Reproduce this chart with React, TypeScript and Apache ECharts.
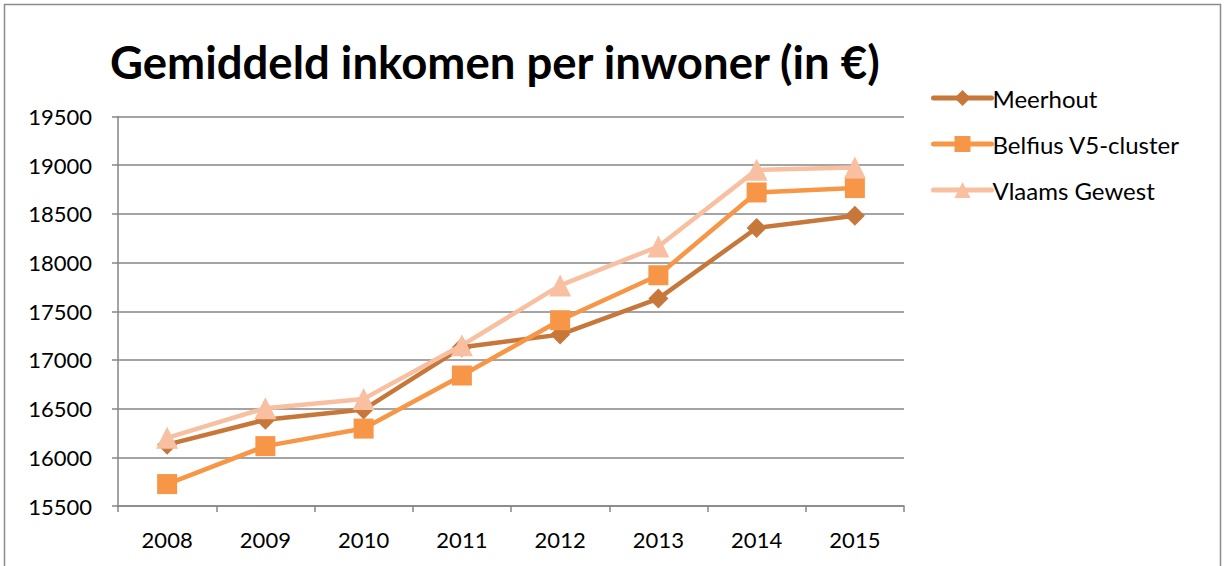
import React, { useEffect, useRef } from "react";
import * as echarts from "echarts";

const years = ["2008", "2009", "2010", "2011", "2012", "2013", "2014", "2015"];
const meerhout = [16130, 16385, 16490, 17130, 17260, 17630, 18355, 18480];
const belfius = [15725, 16115, 16295, 16840, 17408, 17870, 18720, 18765];
const vlaams = [16200, 16505, 16600, 17150, 17765, 18165, 18952, 18975];
const seriesNames = ["Meerhout", "Belfius V5-cluster", "Vlaams Gewest"];
const colors = ["#C8773A", "#F79646", "#F8BFA0"];
const symbols = ["diamond", "rect", "triangle"];
const symbolSizes = [20, 20, 22];

export default function App() {
  const ref = useRef<HTMLDivElement>(null);
  useEffect(() => {
    document.body.style.margin = "0";
    const chart = echarts.init(ref.current!, null, { renderer: "svg" });
    const data = [meerhout, belfius, vlaams];
    chart.setOption({
      animation: false,
      backgroundColor: "#ffffff",
      textStyle: { fontFamily: "Lato, 'Open Sans', sans-serif" },
      title: {
        text: "Gemiddeld inkomen per inwoner (in €)",
        left: 105,
        top: 33,
        textStyle: { fontSize: 45.5, fontWeight: "bold", color: "#000", fontFamily: "Lato, 'Open Sans', sans-serif" },
      },
      graphic: [
        {
          type: "rect",
          shape: { x: 4.5, y: 4.5, width: 1216, height: 600 },
          style: { fill: "none", stroke: "#8c8c8c", lineWidth: 1.5 },
          silent: true,
          z: 0,
        },
      ],
      legend: {
        orient: "vertical",
        left: 926,
        top: 81,
        itemGap: 22,
        itemWidth: 58,
        itemHeight: 20,
        data: seriesNames,
        lineStyle: { width: 5, cap: "round" },
        textStyle: { fontSize: 24, lineHeight: 24, color: "#000", padding: [0, 0, 0, -4] },
      },
      grid: { left: 118, right: 321, top: 116.5, bottom: 60, containLabel: false },
      xAxis: {
        type: "category",
        data: years,
        boundaryGap: true,
        axisLine: { lineStyle: { color: "#868686", width: 1.5 } },
        axisTick: { show: true, length: 6, lineStyle: { color: "#868686", width: 1.5 } },
        axisLabel: { fontSize: 22, color: "#000", margin: 22 },
      },
      yAxis: {
        type: "value",
        min: 15500,
        max: 19500,
        interval: 500,
        axisLine: { show: true, lineStyle: { color: "#868686", width: 1.5 } },
        axisTick: { show: true, length: 6, lineStyle: { color: "#868686", width: 1.5 } },
        axisLabel: { fontSize: 22, color: "#000", margin: 26, formatter: (v: number) => String(v) },
        splitLine: { show: true, lineStyle: { color: "#868686", width: 1.5 } },
      },
      series: seriesNames.map((name, i) => ({
        name,
        type: "line",
        data: data[i],
        symbol: symbols[i],
        symbolSize: symbolSizes[i],
        showAllSymbol: true,
        itemStyle: { color: colors[i] },
        lineStyle: { color: colors[i], width: 4.5 },
        z: 10 + i,
      })),
    });
    return () => chart.dispose();
  }, []);
  return <div ref={ref} style={{ width: 1225, height: 566 }} />;
}
